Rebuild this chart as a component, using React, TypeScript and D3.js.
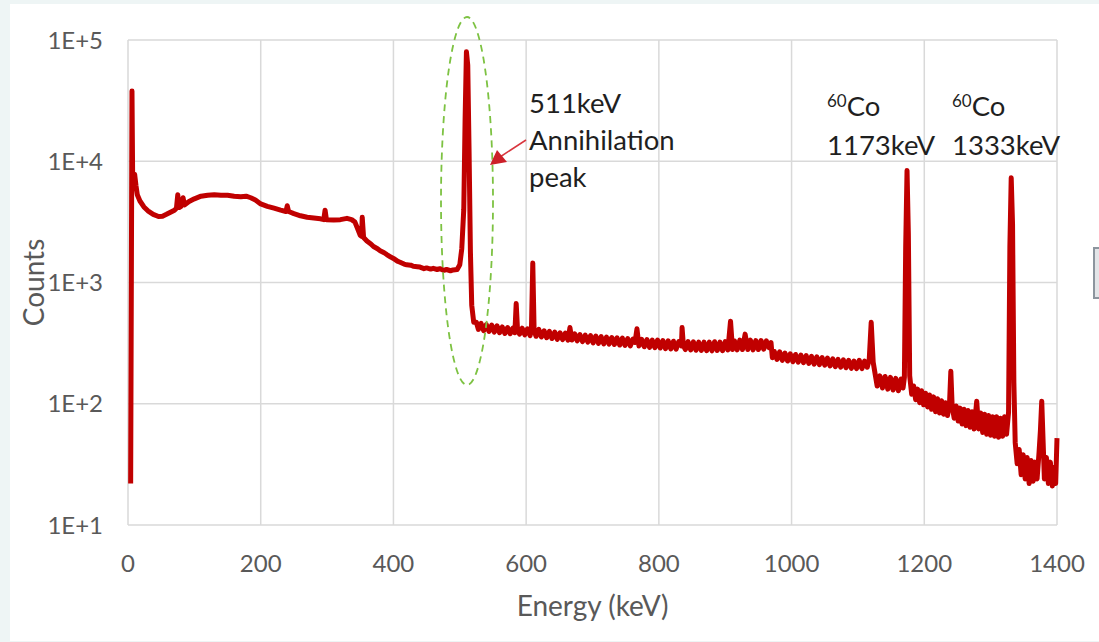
import { useRef, useEffect } from "react";
import * as d3 from "d3";

// spectrum: [energy keV, counts]
const lowEnergy: [number, number][] = [
  [4, 22], [6, 38000], [7, 7500], [8, 6200], [10, 7800], [12, 6300], [14, 5300],
  [18, 4700], [24, 4200], [30, 3900], [38, 3650], [46, 3500], [52, 3520], [58, 3650],
  [64, 3800], [70, 3950], [73, 4100], [75, 5300], [77, 4150], [80, 4250], [83, 5000],
  [85, 4350], [92, 4650], [100, 4900], [110, 5150], [120, 5250], [130, 5300], [140, 5250],
  [150, 5250], [160, 5150], [170, 5100], [178, 5150], [185, 5000], [192, 4800], [200, 4450],
  [210, 4250], [220, 4100], [230, 3950], [238, 3850], [240, 4300], [242, 3850], [250, 3700],
  [260, 3550], [270, 3450], [280, 3400], [290, 3350], [295, 3300], [297, 3950], [299, 3300],
  [310, 3280], [320, 3300], [330, 3380], [337, 3300], [342, 3150], [347, 2700], [350, 2450],
  [352, 2400], [353, 3450], [355, 2350], [360, 2200], [366, 2080], [370, 1980], [376, 1900],
  [380, 1830], [386, 1760], [390, 1700], [396, 1620], [400, 1580], [406, 1500], [410, 1470],
  [416, 1420], [420, 1400], [426, 1390], [430, 1360], [436, 1350], [440, 1340], [446, 1300],
  [450, 1320], [456, 1290], [460, 1310], [466, 1280], [470, 1300], [476, 1260], [480, 1280],
  [486, 1250], [490, 1270], [496, 1280],
];

const annihilationPeak: [number, number][] = [
  [500, 1400], [503, 1900], [506, 4000], [508, 22000], [510, 80000], [512, 62000],
  [514, 12000], [516, 1800], [518, 650], [521, 470],
];

const continuum: [number, number][] = [
  [525, 470], [528, 410], [532, 460], [536, 400], [540, 450], [544, 395], [548, 445],
  [552, 390], [556, 440], [560, 385], [564, 430], [568, 380], [572, 425], [576, 378],
  [580, 420], [583, 385], [585, 670], [587, 410], [590, 375], [594, 420], [598, 370],
  [602, 415], [606, 365], [608, 420], [610, 1450], [612, 400], [615, 360], [619, 410],
  [623, 355], [627, 400], [631, 350], [635, 395], [639, 345], [643, 390], [647, 340],
  [651, 385], [655, 338], [659, 382], [663, 335], [666, 425], [669, 335], [673, 378],
  [677, 330], [681, 372], [685, 325], [689, 368], [693, 322], [697, 365], [701, 318],
  [705, 362], [709, 315], [713, 358], [717, 312], [721, 355], [725, 310], [729, 352],
  [733, 308], [737, 350], [741, 305], [745, 348], [749, 303], [753, 345], [757, 300],
  [761, 342], [764, 320], [767, 415], [770, 300], [774, 340], [778, 295], [782, 338],
  [786, 292], [790, 335], [794, 290], [798, 335], [802, 288], [806, 332], [810, 285],
  [814, 330], [818, 283], [822, 328], [826, 282], [830, 326], [834, 300], [835, 425],
  [837, 300], [840, 280], [844, 325], [848, 278], [852, 324], [856, 276], [860, 322],
  [864, 275], [868, 322], [872, 274], [876, 322], [880, 273], [884, 325], [888, 275],
  [892, 322], [896, 274], [900, 325], [904, 278], [908, 480], [911, 280], [914, 330],
  [918, 278], [922, 335], [926, 280], [930, 375], [934, 280], [938, 335], [942, 278],
  [946, 332], [950, 280], [954, 332], [958, 282], [962, 330], [966, 290], [969, 320],
  [971, 240], [974, 270], [978, 232], [982, 268], [986, 228], [990, 262], [994, 225],
  [998, 258], [1002, 222], [1006, 255], [1010, 220], [1014, 252], [1018, 218], [1022, 250],
  [1026, 215], [1030, 246], [1034, 212], [1038, 244], [1042, 210], [1046, 240], [1050, 208],
  [1054, 238], [1058, 205], [1062, 235], [1066, 202], [1070, 232], [1074, 200], [1078, 230],
  [1082, 198], [1086, 228], [1090, 196], [1094, 225], [1098, 195], [1102, 228], [1106, 195],
  [1110, 225], [1114, 200], [1117, 230], [1120, 470], [1123, 220],
];

const cobaltRegion: [number, number][] = [
  [1126, 175], [1129, 140], [1133, 170], [1137, 135], [1141, 168], [1145, 132], [1149, 165],
  [1153, 130], [1157, 162], [1161, 128], [1165, 160], [1168, 135], [1170, 165], [1172, 2000],
  [1174, 8400], [1176, 2500], [1178, 170], [1181, 120], [1184, 140], [1187, 108], [1190, 132],
  [1193, 102], [1196, 128], [1199, 98], [1202, 122], [1205, 94], [1208, 118], [1211, 90],
  [1214, 114], [1217, 86], [1220, 110], [1223, 84], [1226, 106], [1229, 82], [1232, 102],
  [1235, 80], [1238, 100], [1240, 185], [1242, 95], [1245, 76], [1248, 96], [1251, 72],
  [1254, 92], [1257, 68], [1260, 90], [1263, 66], [1266, 88], [1269, 64], [1272, 86],
  [1275, 62], [1279, 105], [1282, 62], [1285, 84], [1288, 58], [1291, 82], [1294, 56],
  [1297, 80], [1300, 55], [1303, 78], [1306, 54], [1309, 78], [1312, 53], [1315, 76],
  [1318, 54], [1321, 78], [1324, 56], [1327, 85], [1329, 2000], [1331, 7300], [1333, 3000],
  [1335, 150], [1337, 48], [1340, 32], [1343, 42], [1346, 26], [1349, 38], [1352, 24],
  [1355, 36], [1358, 22], [1361, 34], [1364, 23], [1367, 33], [1370, 24], [1373, 40],
  [1375, 60], [1377, 105], [1379, 50], [1381, 24], [1384, 36], [1387, 22], [1390, 33],
  [1393, 21], [1396, 30], [1398, 22], [1400, 52],
];

const xTicks = [0, 200, 400, 600, 800, 1000, 1200, 1400];
const yTicks = [10, 100, 1000, 10000, 100000];

const peakLabel = ["511keV", "Annihilation", "peak"];
const cobaltLabels = [
  { energy: "1173keV", x: 827 },
  { energy: "1333keV", x: 952 },
];

export default function App() {
  const svgRef = useRef<SVGSVGElement>(null);

  useEffect(() => {
    const svg = d3.select(svgRef.current);
    svg.selectAll("*").remove();

    const width = 1099;
    const height = 642;
    const margin = { top: 40, right: 42, bottom: 117, left: 128 };
    const font = "Lato, 'Open Sans', sans-serif";

    // page backdrop + white card
    svg.append("rect").attr("width", width).attr("height", height).attr("fill", "#eef5f5");
    svg.append("rect").attr("x", 10).attr("y", 4).attr("width", width - 10).attr("height", 637).attr("fill", "#fff");

    const x = d3.scaleLinear().domain([0, 1400]).range([margin.left, width - margin.right]);
    const y = d3.scaleLog().domain([10, 1e5]).range([height - margin.bottom, margin.top]);

    // grid
    svg.append("g")
      .selectAll("line")
      .data(xTicks)
      .join("line")
      .attr("x1", (d) => x(d))
      .attr("x2", (d) => x(d))
      .attr("y1", y(1e5))
      .attr("y2", y(10))
      .attr("stroke", "#d9d9d9")
      .attr("stroke-width", 1.5);
    svg.append("g")
      .selectAll("line")
      .data(yTicks)
      .join("line")
      .attr("x1", x(0))
      .attr("x2", x(1400))
      .attr("y1", (d) => y(d))
      .attr("y2", (d) => y(d))
      .attr("stroke", "#d9d9d9")
      .attr("stroke-width", 1.5);

    // tick labels
    svg.append("g")
      .selectAll("text")
      .data(yTicks)
      .join("text")
      .attr("x", 103)
      .attr("y", (d) => y(d))
      .attr("dy", "0.36em")
      .attr("text-anchor", "end")
      .attr("font-family", font)
      .attr("font-size", 24)
      .attr("fill", "#595959")
      .text((d) => "1E+" + Math.round(Math.log10(d)));
    svg.append("g")
      .selectAll("text")
      .data(xTicks)
      .join("text")
      .attr("x", (d) => x(d))
      .attr("y", 572)
      .attr("text-anchor", "middle")
      .attr("font-family", font)
      .attr("font-size", 24)
      .attr("fill", "#595959")
      .text((d) => d);

    // axis titles
    svg.append("text")
      .attr("x", (x(0) + x(1400)) / 2)
      .attr("y", 616)
      .attr("text-anchor", "middle")
      .attr("font-family", font)
      .attr("font-size", 28)
      .attr("fill", "#595959")
      .text("Energy (keV)");
    svg.append("text")
      .attr("transform", `translate(44,${(y(10) + y(1e5)) / 2}) rotate(-90)`)
      .attr("text-anchor", "middle")
      .attr("font-family", font)
      .attr("font-size", 28)
      .attr("fill", "#595959")
      .text("Counts");

    // spectrum
    const spectrum = [...lowEnergy, ...annihilationPeak, ...continuum, ...cobaltRegion];
    const line = d3.line<[number, number]>()
      .x((d) => x(d[0]))
      .y((d) => y(d[1]));
    svg.append("path")
      .datum(spectrum)
      .attr("d", line)
      .attr("fill", "none")
      .attr("stroke", "#c00000")
      .attr("stroke-width", 5)
      .attr("stroke-linejoin", "round");

    // dashed ellipse round the 511 keV peak
    svg.append("ellipse")
      .attr("cx", 467)
      .attr("cy", 201)
      .attr("rx", 26)
      .attr("ry", 184)
      .attr("fill", "none")
      .attr("stroke", "#7dc242")
      .attr("stroke-width", 1.8)
      .attr("stroke-dasharray", "7,5");

    // arrow
    svg.append("line")
      .attr("x1", 526).attr("y1", 140)
      .attr("x2", 500).attr("y2", 157)
      .attr("stroke", "#d9363e")
      .attr("stroke-width", 1.5);
    svg.append("path")
      .attr("d", "M490,165 L497,150 L507,162 Z")
      .attr("fill", "#cc1f28");

    // annotation texts
    svg.append("g")
      .selectAll("text")
      .data(peakLabel)
      .join("text")
      .attr("x", 529)
      .attr("y", (d, i) => 113 + i * 37)
      .attr("font-family", font)
      .attr("font-size", 27.5)
      .attr("fill", "#1f1f1f")
      .text((d) => d);

    cobaltLabels.forEach((c) => {
      const t = svg.append("text")
        .attr("x", c.x)
        .attr("y", 116)
        .attr("font-family", font)
        .attr("font-size", 27.5)
        .attr("fill", "#1f1f1f");
      t.append("tspan").attr("font-size", 17).attr("dy", -9).text("60");
      t.append("tspan").attr("dy", 9).text("Co");
      svg.append("text")
        .attr("x", c.x)
        .attr("y", 155)
        .attr("font-family", font)
        .attr("font-size", 27.5)
        .attr("fill", "#1f1f1f")
        .text(c.energy);
    });

    // little grey box at the right edge
    svg.append("rect")
      .attr("x", 1094).attr("y", 248)
      .attr("width", 8).attr("height", 50)
      .attr("fill", "#e3e5e8")
      .attr("stroke", "#8c959e")
      .attr("stroke-width", 2);
  }, []);

  return (
    <svg
      ref={svgRef}
      width={1099}
      height={642}
      style={{ position: "absolute", left: 0, top: 0, display: "block" }}
    />
  );
}
